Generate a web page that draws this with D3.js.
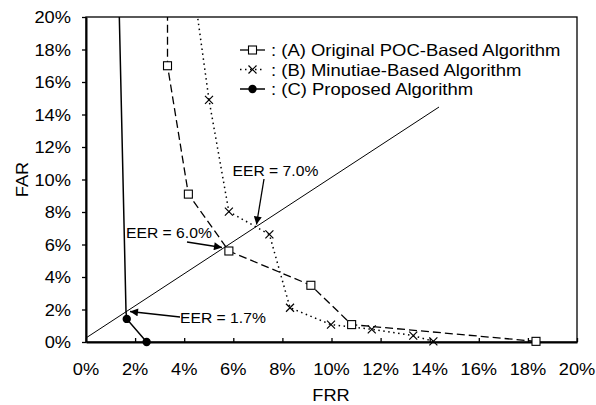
<!DOCTYPE html>
<html><head><meta charset="utf-8">
<script src="https://cdn.jsdelivr.net/npm/d3@7"></script>
<style>body{margin:0;background:#fff}svg{display:block}text{font-family:"Liberation Sans",Arial,sans-serif;fill:#000}</style>
</head><body>
<svg id="c" width="596" height="405"></svg>
<script>
const xTicks = [0,2,4,6,8,10,12,14,16,18,20];
const yTicks = [0,2,4,6,8,10,12,14,16,18,20];
// (A) Original POC-Based Algorithm: [FRR, FAR]
const seriesA = [[3.32,21],[3.32,17.0],[4.17,9.1],[5.82,5.6],[9.16,3.49],[10.82,1.07],[18.33,0.04]];
const markersA = [[3.32,17.0],[4.17,9.1],[5.82,5.6],[9.16,3.49],[10.82,1.07],[18.33,0.04]];
// (B) Minutiae-Based Algorithm
const seriesB = [[4.5,20.5],[5.01,14.9],[5.82,8.02],[7.47,6.62],[8.31,2.11],[9.98,1.07],[11.64,0.78],[13.33,0.39],[14.15,0.04]];
const markersB = [[5.01,14.9],[5.82,8.02],[7.47,6.62],[8.31,2.11],[9.98,1.07],[11.64,0.78],[13.33,0.39],[14.15,0.04]];
// (C) Proposed Algorithm
const seriesC = [[1.35,20.5],[1.63,1.85],[1.66,1.42],[2.47,0]];
const markersC = [[1.66,1.42],[2.47,0]];
// EER diagonal
const eerLine = [[0,0.25],[14.38,14.46]];
const legendLabels = [": (A) Original POC-Based Algorithm", ": (B) Minutiae-Based Algorithm", ": (C) Proposed Algorithm"];
const annotations = [
  {label:"EER = 7.0%", text:[232.5,175.5], from:[264,179], to:[256.5,224.5]},
  {label:"EER = 6.0%", text:[126,238], from:[187,242], to:[222,247.5]},
  {label:"EER = 1.7%", text:[180,322.5], from:[180,317], to:[130,311.5]}
];

const SX = 1.12;
const svg = d3.select("#c");
const L=86, R=577, T=17, B=342;
const x = d3.scaleLinear().domain([0,20]).range([L,R]);
const y = d3.scaleLinear().domain([0,20]).range([B,T]);

function txt(g, s, px, py, size, anchor){
  return g.append("text").attr("transform",`translate(${px},${py}) scale(${SX},1)`)
   .attr("font-size",size).attr("text-anchor",anchor||"start").text(s);
}

const defs = svg.append("defs");
defs.append("clipPath").attr("id","clip").append("rect").attr("x",L).attr("y",T).attr("width",R-L).attr("height",B-T);
defs.append("marker").attr("id","arr").attr("viewBox","0 0 10 10").attr("refX",10).attr("refY",5)
  .attr("markerWidth",10).attr("markerHeight",8).attr("markerUnits","userSpaceOnUse").attr("orient","auto")
  .append("path").attr("d","M0,0L10,5L0,10z").attr("fill","#000");

// frame
svg.append("rect").attr("x",L).attr("y",T).attr("width",R-L).attr("height",B-T).attr("fill","none").attr("stroke","#000").attr("stroke-width",1.3);

// axes
const xAxis = d3.axisBottom(x).tickValues(xTicks).tickSizeInner(-4).tickSizeOuter(0).tickFormat(()=>"");
const gx = svg.append("g").attr("transform",`translate(0,${B})`).call(xAxis);
gx.select(".domain").attr("stroke-width",2);
gx.selectAll(".tick line").attr("stroke-width",1.3);
xTicks.forEach(v=>txt(svg, v+"%", x(v), 375, 16.3, "middle"));

const yAxis = d3.axisLeft(y).tickValues(yTicks).tickSizeInner(4).tickSizeOuter(0).tickFormat(()=>"");
const gy = svg.append("g").attr("transform",`translate(${L},0)`).call(yAxis);
gy.select(".domain").attr("stroke-width",2);
gy.selectAll(".tick line").attr("stroke-width",1.3);
yTicks.forEach(v=>txt(svg, v+"%", 71, y(v)+6, 16.3, "end"));

svg.append("text").attr("transform",`translate(28,${(T+B)/2}) rotate(-90) scale(${SX},1)`).attr("font-size",16.3).attr("text-anchor","middle").text("FAR");
txt(svg,"FRR",331,401,16.3,"middle");

const line = d3.line().x(d=>x(d[0])).y(d=>y(d[1]));
const plot = svg.append("g").attr("clip-path","url(#clip)");
plot.append("path").attr("d",line(eerLine)).attr("fill","none").attr("stroke","#000").attr("stroke-width",1);
plot.append("path").attr("d",line(seriesA)).attr("fill","none").attr("stroke","#000").attr("stroke-width",1.3).attr("stroke-dasharray","8,4");
plot.append("path").attr("d",line(seriesB)).attr("fill","none").attr("stroke","#000").attr("stroke-width",1.5).attr("stroke-dasharray","1.5,3.5");
plot.append("path").attr("d",line(seriesC)).attr("fill","none").attr("stroke","#000").attr("stroke-width",1.5);

const mk = svg.append("g");
function sq(g,cx,cy){g.append("rect").attr("x",cx-4).attr("y",cy-4).attr("width",8).attr("height",8).attr("fill","#fff").attr("stroke","#000").attr("stroke-width",1.1);}
function cross(g,cx,cy){g.append("path").attr("d",`M${cx-4},${cy-4}L${cx+4},${cy+4}M${cx-4},${cy+4}L${cx+4},${cy-4}`).attr("stroke","#000").attr("stroke-width",1.2);}
function dot(g,cx,cy){g.append("circle").attr("cx",cx).attr("cy",cy).attr("r",4.2).attr("fill","#000");}
markersA.forEach(d=>sq(mk,x(d[0]),y(d[1])));
markersB.forEach(d=>cross(mk,x(d[0]),y(d[1])));
markersC.forEach(d=>dot(mk,x(d[0]),y(d[1])));

// legend
const lg = svg.append("g");
const ly = [50,69.5,89];
const lx0=240, lx1=265, lxm=252.5;
lg.append("line").attr("x1",lx0).attr("x2",lx1).attr("y1",ly[0]).attr("y2",ly[0]).attr("stroke","#000").attr("stroke-width",1.3);
sq(lg,lxm,ly[0]);
lg.append("line").attr("x1",lx0).attr("x2",lx1).attr("y1",ly[1]).attr("y2",ly[1]).attr("stroke","#000").attr("stroke-width",1.5).attr("stroke-dasharray","1.5,3.5");
cross(lg,lxm,ly[1]);
lg.append("line").attr("x1",lx0).attr("x2",lx1).attr("y1",ly[2]).attr("y2",ly[2]).attr("stroke","#000").attr("stroke-width",1.5);
dot(lg,lxm,ly[2]);
legendLabels.forEach((s,i)=>txt(lg,s,271,ly[i]+6,16.5,"start"));

// annotations
annotations.forEach(a=>{
  txt(svg,a.label,a.text[0],a.text[1],14,"start");
  svg.append("line").attr("x1",a.from[0]).attr("y1",a.from[1]).attr("x2",a.to[0]).attr("y2",a.to[1])
    .attr("stroke","#000").attr("stroke-width",1.3).attr("marker-end","url(#arr)");
});
</script>
</body></html>
